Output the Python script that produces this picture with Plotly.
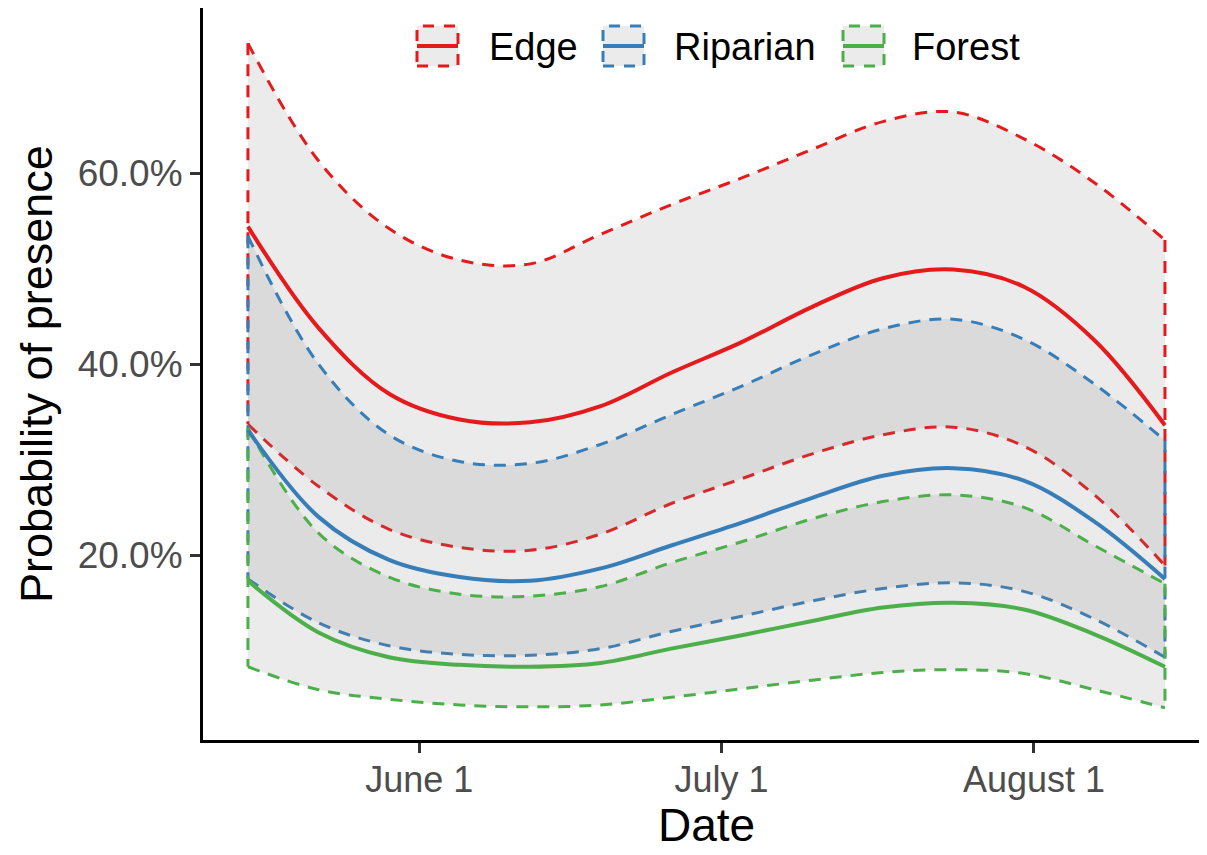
import plotly.graph_objects as go
import pandas as pd

# ---------------- data ----------------
dates = ["2019-05-15", "2019-05-22", "2019-05-29", "2019-06-05", "2019-06-12",
         "2019-06-19", "2019-06-26", "2019-07-03", "2019-07-10", "2019-07-17",
         "2019-07-24", "2019-07-31", "2019-08-07", "2019-08-14"]

edge_upper = [73.6, 61.3, 54.2, 50.9, 50.5, 53.6, 56.7, 59.5, 62.5, 65.4, 66.4, 63.6, 59.0, 53.0]
edge_mean  = [54.4, 43.8, 36.9, 34.2, 33.9, 35.6, 39.1, 42.3, 46.0, 49.0, 49.9, 48.1, 42.5, 33.6]
edge_lower = [33.7, 27.2, 22.7, 20.8, 20.5, 22.2, 25.4, 28.0, 30.6, 32.6, 33.4, 31.4, 26.3, 18.9]

rip_upper = [53.4, 40.0, 32.6, 29.8, 29.6, 31.6, 34.7, 37.7, 41.0, 43.7, 44.7, 42.6, 37.9, 32.0]
rip_mean  = [33.1, 24.0, 19.5, 17.7, 17.3, 18.6, 21.0, 23.4, 26.0, 28.3, 29.1, 27.8, 23.5, 17.5]
rip_lower = [17.5, 12.9, 10.5, 9.6, 9.5, 10.2, 12.0, 13.6, 15.2, 16.5, 17.1, 16.2, 13.3, 9.3]

for_upper = [33.3, 22.3, 17.7, 15.9, 15.7, 16.7, 19.2, 21.4, 23.8, 25.6, 26.3, 25.0, 21.0, 17.0]
for_mean  = [17.3, 11.9, 9.3, 8.5, 8.3, 8.7, 10.2, 11.6, 13.1, 14.5, 15.0, 14.3, 11.7, 8.3]
for_lower = [8.3, 5.9, 4.9, 4.3, 4.1, 4.3, 5.1, 6.0, 6.9, 7.7, 8.0, 7.6, 5.9, 4.0]

groups = ["Edge", "Riparian", "Forest"]
colors = ["#E41A1C", "#377EB8", "#4DAF4A"]
uppers = [edge_upper, rip_upper, for_upper]
means = [edge_mean, rip_mean, for_mean]
lowers = [edge_lower, rip_lower, for_lower]

y_ticks = [20, 40, 60]
y_tick_labels = ["20.0%", "40.0%", "60.0%"]
x_ticks = ["2019-06-01", "2019-07-01", "2019-08-01"]
x_tick_labels = ["June 1", "July 1", "August 1"]

# ---------------- layout geometry ----------------
# page body has an 8px default margin: figure origin sits at (8, 8) in the window
OFF = 8
W, H = 1207 - OFF, 855 - OFF
PL, PT, PR, PB = 203, 8, 1207, 740          # panel edges in window pixels
ML, MT = PL - OFF, PT - OFF
MR = (W + OFF) - PR
MB = (H + OFF) - PB
PW, PH = PR - PL, PB - PT
FONT = "Liberation Sans, Arial, sans-serif"
FILL = "rgba(128,128,128,0.16)"
DASH = "12px,9px"
DW = 3.0
SW = 4.0


def px_x(px):
    return (px - PL) / PW


def px_y(py):
    return (PB - py) / PH


fig = go.Figure()

for g, c, up, lo in zip(groups, colors, uppers, lowers):
    fig.add_trace(go.Scatter(x=dates, y=up, mode="lines", name=g + " upper",
                             line=dict(color=c, width=DW, dash=DASH, shape="spline"),
                             showlegend=False, hoverinfo="skip"))
    fig.add_trace(go.Scatter(x=dates, y=lo, mode="lines", name=g + " lower",
                             line=dict(color=c, width=DW, dash=DASH, shape="spline"),
                             fill="tonexty", fillcolor=FILL,
                             showlegend=False, hoverinfo="skip"))
    fig.add_trace(go.Scatter(x=[dates[0], dates[0]], y=[up[0], lo[0]], mode="lines",
                             line=dict(color=c, width=DW, dash=DASH),
                             showlegend=False, hoverinfo="skip"))
    fig.add_trace(go.Scatter(x=[dates[-1], dates[-1]], y=[up[-1], lo[-1]], mode="lines",
                             line=dict(color=c, width=DW, dash=DASH),
                             showlegend=False, hoverinfo="skip"))

for g, c, m in zip(groups, colors, means):
    fig.add_trace(go.Scatter(x=dates, y=m, mode="lines", name=g,
                             line=dict(color=c, width=SW, shape="spline"),
                             showlegend=False))

# custom legend (ggplot-style keys)
key_left = [417, 603, 843]
text_left = [487, 672, 910]
key_top, key_bot = 26, 66
shapes = []
annotations = []
for g, c, kl, tl in zip(groups, colors, key_left, text_left):
    shapes.append(dict(type="rect", xref="paper", yref="paper",
                       x0=px_x(kl), x1=px_x(kl + 41), y0=px_y(key_bot), y1=px_y(key_top),
                       fillcolor="#EBEBEB", line=dict(color=c, width=DW, dash="11px,10px"),
                       layer="above"))
    shapes.append(dict(type="line", xref="paper", yref="paper",
                       x0=px_x(kl), x1=px_x(kl + 41),
                       y0=px_y((key_top + key_bot) / 2), y1=px_y((key_top + key_bot) / 2),
                       line=dict(color=c, width=SW), layer="above"))
    annotations.append(dict(text=g, xref="paper", yref="paper", x=px_x(tl), y=px_y(47),
                            xanchor="left", yanchor="middle", showarrow=False,
                            font=dict(family=FONT, size=38, color="black")))

annotations.append(dict(text="Date", xref="paper", yref="paper", x=px_x(706), y=px_y(825),
                        xanchor="center", yanchor="middle", showarrow=False,
                        font=dict(family=FONT, size=46, color="black")))
annotations.append(dict(text="Probability of presence", xref="paper", yref="paper",
                        x=px_x(36), y=px_y(374), textangle=-90,
                        xanchor="center", yanchor="middle", showarrow=False,
                        font=dict(family=FONT, size=45, color="black")))

x0 = pd.Timestamp(dates[0]) - pd.Timedelta(days=4.46)
x1 = pd.Timestamp(dates[-1]) + pd.Timedelta(days=4.17)

fig.update_layout(
    width=W, height=H,
    margin=dict(l=ML, r=MR, t=MT, b=MB, pad=0),
    paper_bgcolor="white", plot_bgcolor="white",
    showlegend=False,
    shapes=shapes, annotations=annotations,
    xaxis=dict(range=[x0, x1], showgrid=False, zeroline=False,
               showline=True, linecolor="black", linewidth=3,
               ticks="outside", ticklen=10, tickwidth=3, tickcolor="#333333",
               tickvals=x_ticks, ticktext=x_tick_labels, ticklabelstandoff=-4,
               tickfont=dict(family=FONT, size=36, color="#4D4D4D")),
    yaxis=dict(range=[0.63, 77.3], showgrid=False, zeroline=False,
               showline=True, linecolor="black", linewidth=3,
               ticks="outside", ticklen=10, tickwidth=3, tickcolor="#333333",
               tickvals=y_ticks, ticktext=y_tick_labels,
               tickfont=dict(family=FONT, size=37, color="#4D4D4D")),
)

fig.write_html("out.html")
